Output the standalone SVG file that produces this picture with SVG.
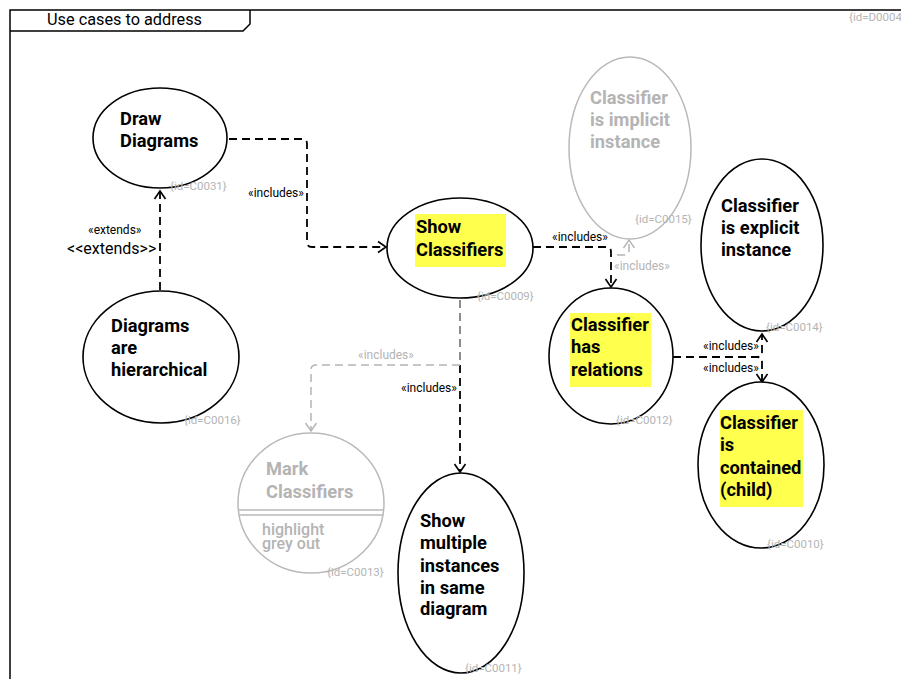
<svg xmlns="http://www.w3.org/2000/svg" width="901" height="679" viewBox="0 0 901 679">
  <defs>
    <marker id="arrow" markerUnits="userSpaceOnUse" markerWidth="14" markerHeight="14" viewBox="-10 -7 12 14" refX="0" refY="0" orient="auto">
      <path d="M-8,-5.5 L0,0 L-8,5.5" fill="none" stroke="#000" stroke-width="1.6"/>
    </marker>
    <marker id="arrow-grey" markerUnits="userSpaceOnUse" markerWidth="14" markerHeight="14" viewBox="-10 -7 12 14" refX="0" refY="0" orient="auto">
      <path d="M-8,-5.5 L0,0 L-8,5.5" fill="none" stroke="#b4b4b4" stroke-width="1.4"/>
    </marker>
  </defs>
  <style>
    text { font-family: Roboto, "Liberation Sans", sans-serif; }
    .frame { fill: none; stroke: #000; stroke-width: 1.5; }
    .uc { fill: #fff; stroke: #000; stroke-width: 1.6; }
    .uc-grey { fill: #fff; stroke: #b9b9b9; stroke-width: 1.5; }
    .name { font-size: 18.3px; font-weight: bold; fill: #000; }
    .name-grey { font-size: 18.3px; font-weight: bold; fill: #b4b4b4; }
    .sub-grey { font-size: 16px; font-weight: 500; fill: #b4b4b4; }
    .hl { fill: #ffff4d; }
    .uid { font-size: 11.5px; fill: #b4b4b4; }
    .dep { fill: none; stroke: #000; stroke-width: 1.8; stroke-dasharray: 8 5; marker-end: url(#arrow); }
    .dep-grey { fill: none; stroke: #b4b4b4; stroke-width: 1.5; stroke-dasharray: 8 5; marker-end: url(#arrow-grey); }
    .lbl { font-size: 12px; fill: #000; }
    .lbl-grey { font-size: 12px; fill: #b4b4b4; }
    .lbl-big { font-size: 16px; fill: #000; }
  </style>
  <rect width="901" height="679" fill="#fff"/>

  <!-- diagram frame with name tab -->
  <g id="frame">
    <path class="frame" d="M10,690 V10 H905"/>
    <path class="frame" d="M10,31 H243 L250,24 V10"/>
    <text x="47" y="25" font-size="16.3" fill="#000">Use cases to address</text>
    <text class="uid" x="849" y="21">{id=D0004}</text>
  </g>

  <!-- dependencies -->
  <g id="connectors">
    <path class="dep" d="M229,139 H302 Q307,139 307,144 V242 Q307,247 312,247 H386"/>
    <text class="lbl" x="248" y="197">«includes»</text>

    <path class="dep" d="M160,290 V191"/>
    <text class="lbl" x="88" y="234">«extends»</text>
    <text class="lbl-big" x="67" y="254">&lt;&lt;extends&gt;&gt;</text>

    <path class="dep" d="M533,247 H606 Q611,247 611,252 V287"/>
    <text class="lbl" x="552" y="241">«includes»</text>

    <path class="dep-grey" d="M617,255 H624 Q629,255 629,250 V240"/>
    <text class="lbl-grey" x="614" y="270">«includes»</text>

    <path class="dep" d="M673,357 H757 Q762,357 762,352 V334"/>
    <path class="dep" d="M673,357 H757 Q762,357 762,362 V382"/>
    <text class="lbl" x="703" y="350">«includes»</text>
    <text class="lbl" x="703" y="372">«includes»</text>

    <path class="dep" d="M460,300 V472"/>
    <text class="lbl" x="401" y="392">«includes»</text>
    <path class="dep-grey" d="M460,300 V365 H316 Q311,365 311,370 V431"/>
    <text class="lbl-grey" x="358" y="359">«includes»</text>
  </g>

  <!-- use cases -->
  <g id="C0031">
    <ellipse class="uc" cx="160" cy="138" rx="67" ry="50"/>
    <text class="name" x="120" y="125">Draw</text>
    <text class="name" x="120" y="147">Diagrams</text>
    <text class="uid" x="170" y="190">{id=C0031}</text>
  </g>

  <g id="C0016">
    <ellipse class="uc" cx="161" cy="357" rx="78" ry="66"/>
    <text class="name" x="111" y="332">Diagrams</text>
    <text class="name" x="111" y="354">are</text>
    <text class="name" x="111" y="376">hierarchical</text>
    <text class="uid" x="184" y="424">{id=C0016}</text>
  </g>

  <g id="C0009">
    <ellipse class="uc" cx="460" cy="248" rx="73" ry="50"/>
    <rect class="hl" x="415" y="214" width="91" height="53"/>
    <text class="name" x="416" y="233">Show</text>
    <text class="name" x="416" y="256">Classifiers</text>
    <text class="uid" x="477" y="300">{id=C0009}</text>
  </g>

  <g id="C0015">
    <ellipse class="uc-grey" cx="630" cy="148" rx="61" ry="91"/>
    <text class="name-grey" x="590" y="104">Classifier</text>
    <text class="name-grey" x="590" y="126">is implicit</text>
    <text class="name-grey" x="590" y="148">instance</text>
    <text class="uid" x="635" y="223">{id=C0015}</text>
  </g>

  <g id="C0014">
    <ellipse class="uc" cx="762" cy="245" rx="61" ry="86"/>
    <text class="name" x="721" y="212">Classifier</text>
    <text class="name" x="721" y="234">is explicit</text>
    <text class="name" x="721" y="256">instance</text>
    <text class="uid" x="766" y="331">{id=C0014}</text>
  </g>

  <g id="C0012">
    <ellipse class="uc" cx="611" cy="356" rx="62" ry="68"/>
    <rect class="hl" x="570" y="313" width="81" height="74"/>
    <text class="name" x="571" y="331">Classifier</text>
    <text class="name" x="571" y="353">has</text>
    <text class="name" x="571" y="376">relations</text>
    <text class="uid" x="616" y="424">{id=C0012}</text>
  </g>

  <g id="C0010">
    <ellipse class="uc" cx="761" cy="465" rx="63" ry="83"/>
    <rect class="hl" x="720" y="410" width="83" height="97"/>
    <text class="name" x="720" y="429">Classifier</text>
    <text class="name" x="720" y="451">is</text>
    <text class="name" x="720" y="474">contained</text>
    <text class="name" x="720" y="496">(child)</text>
    <text class="uid" x="767" y="548">{id=C0010}</text>
  </g>

  <g id="C0013">
    <ellipse class="uc-grey" cx="311" cy="503" rx="73" ry="70"/>
    <line x1="238.5" y1="510" x2="383.5" y2="510" stroke="#b9b9b9" stroke-width="1.5"/>
    <line x1="239" y1="515" x2="383" y2="515" stroke="#b9b9b9" stroke-width="1.5"/>
    <text class="name-grey" x="266" y="475">Mark</text>
    <text class="name-grey" x="266" y="498">Classifiers</text>
    <text class="sub-grey" x="262" y="535">highlight</text>
    <text class="sub-grey" x="262" y="549">grey out</text>
    <text class="uid" x="327" y="576">{id=C0013}</text>
  </g>

  <g id="C0011">
    <ellipse class="uc" cx="461" cy="573" rx="63" ry="100"/>
    <text class="name" x="420" y="527">Show</text>
    <text class="name" x="420" y="549">multiple</text>
    <text class="name" x="420" y="572">instances</text>
    <text class="name" x="420" y="594">in same</text>
    <text class="name" x="420" y="615">diagram</text>
    <text class="uid" x="465" y="672">{id=C0011}</text>
  </g>
</svg>
